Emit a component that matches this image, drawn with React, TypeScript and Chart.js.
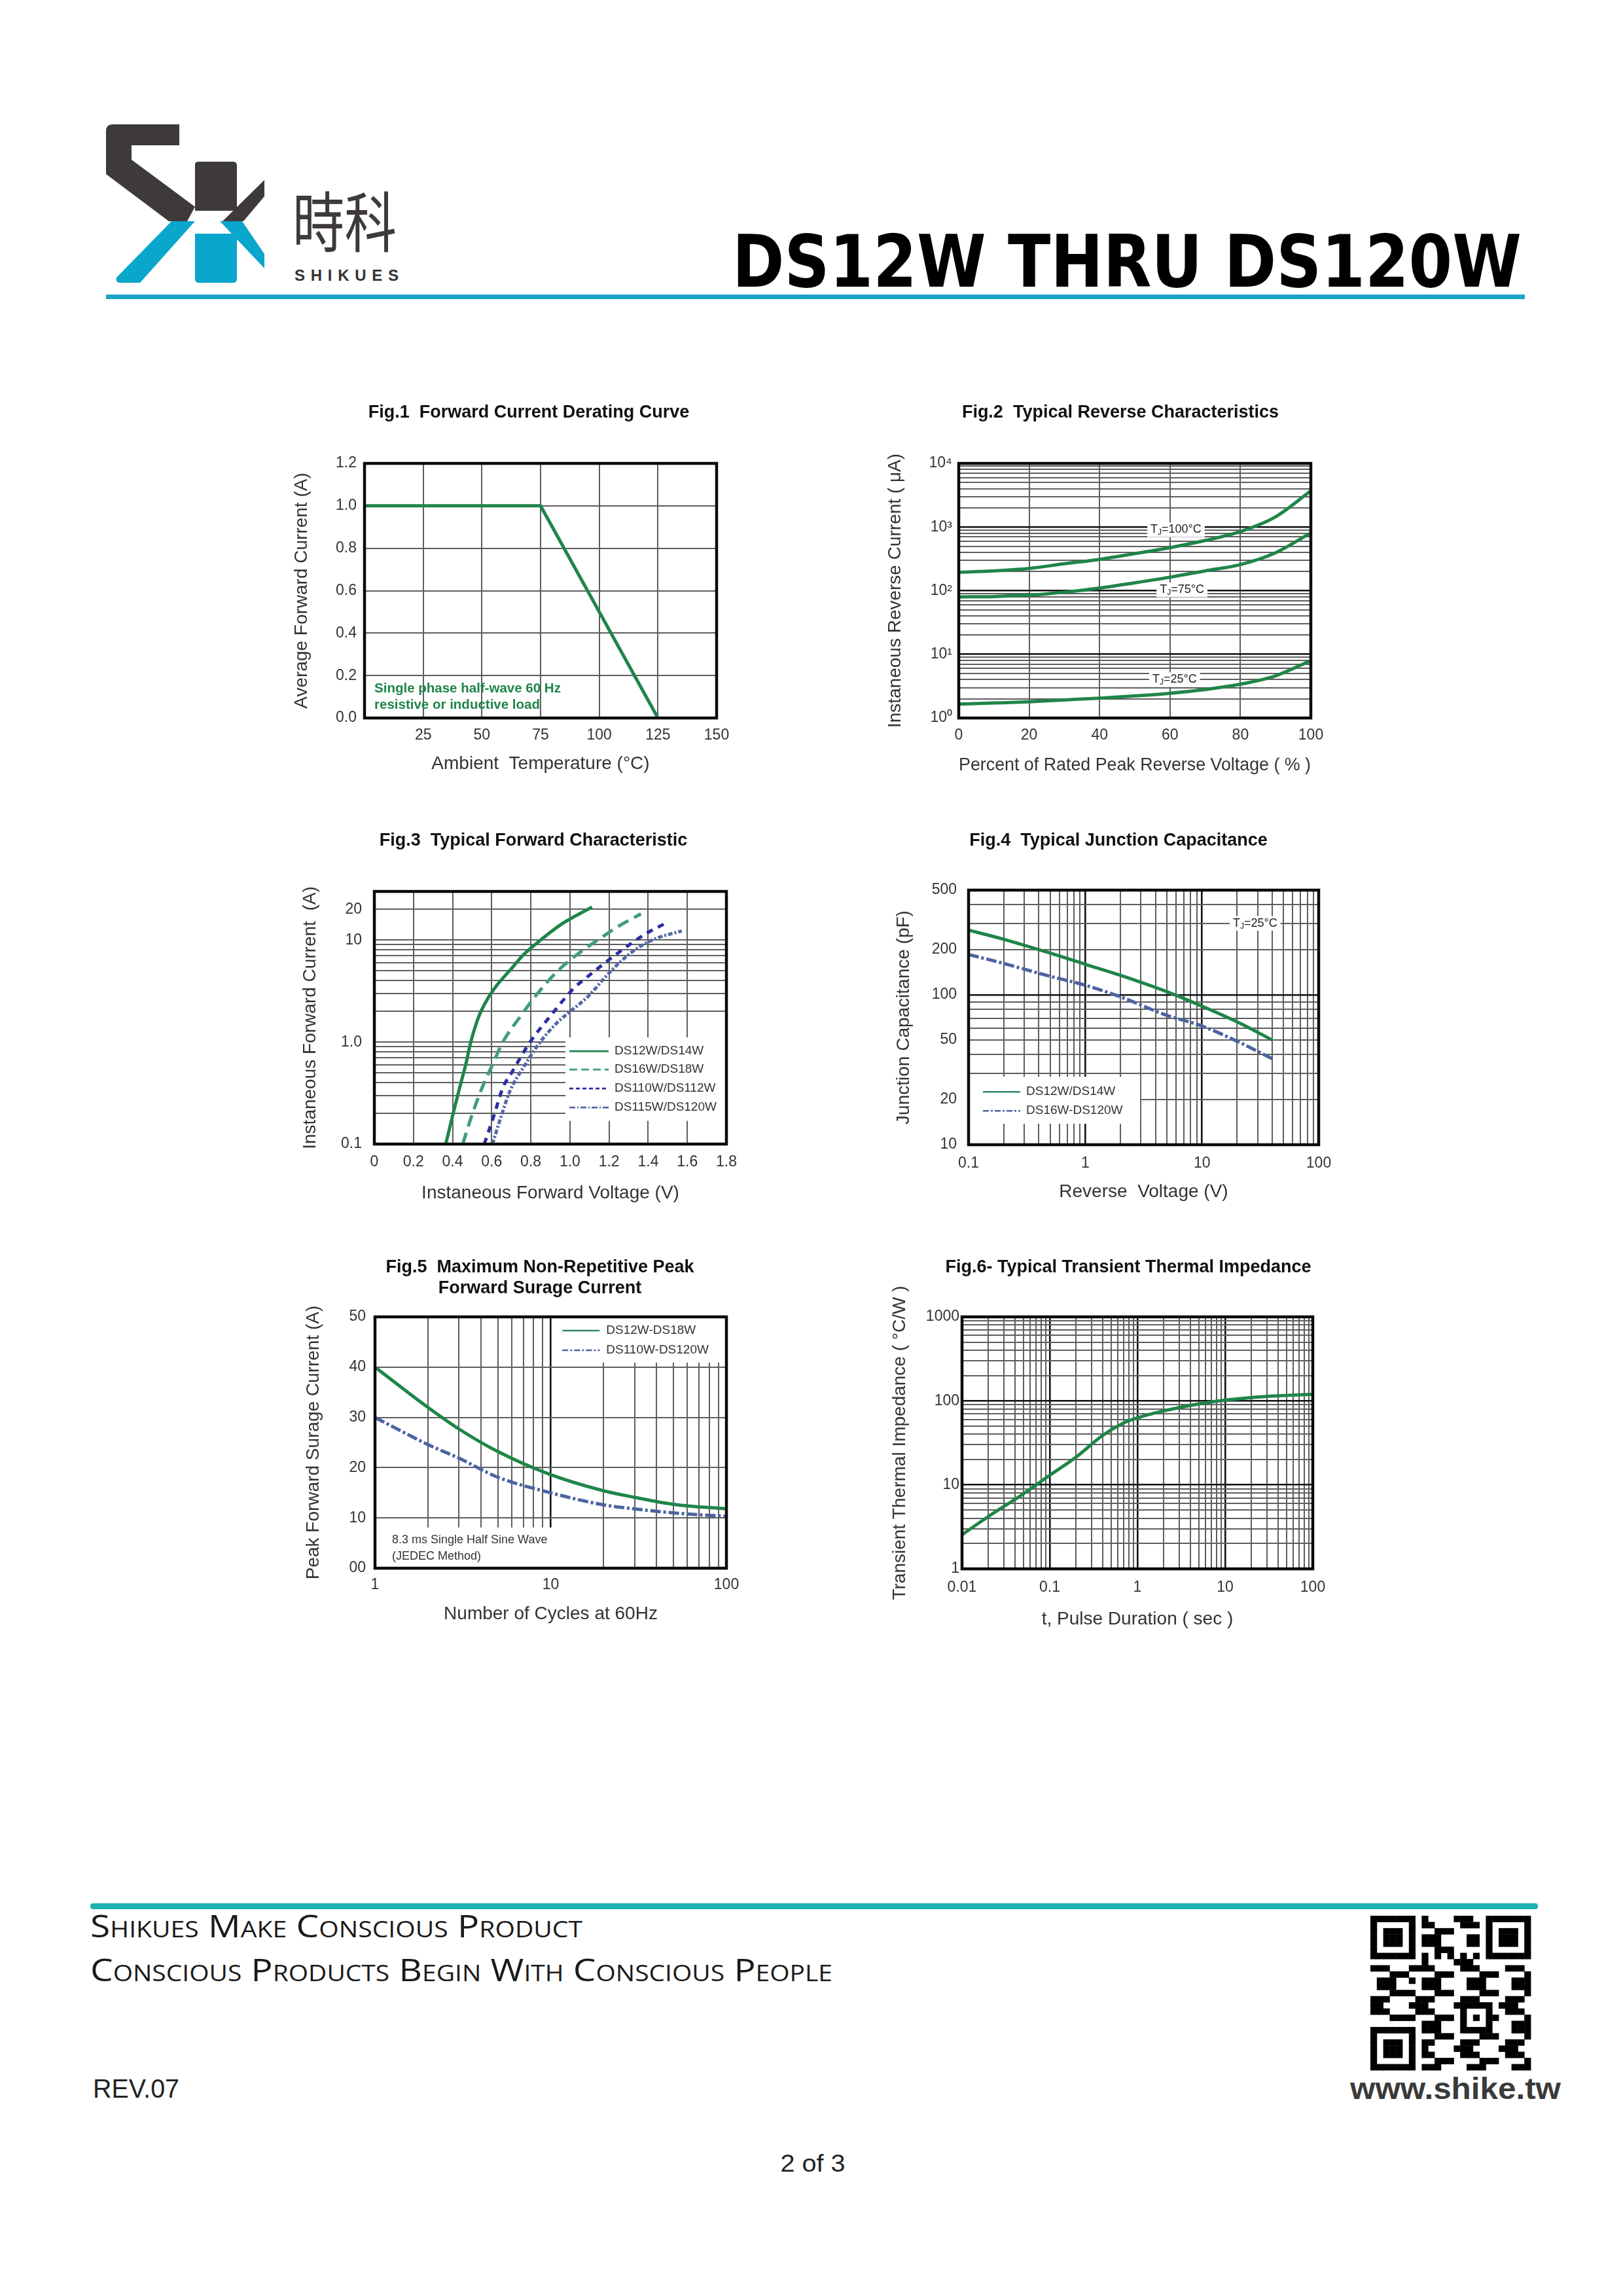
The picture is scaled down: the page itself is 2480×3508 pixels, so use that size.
import React, { useEffect, useRef } from 'react';
import { Chart, registerables } from 'chart.js';

Chart.register(...registerables);

// ======================= DATA =======================
// Fig.1 Forward Current Derating Curve
const FIG1_TEMP = [0, 75, 125];
const FIG1_CURRENT = [1.0, 1.0, 0.0];
const FIG1_X_GRID = [0, 25, 50, 75, 100, 125, 150];
const FIG1_X_LABELS = ['', '25', '50', '75', '100', '125', '150'];
const FIG1_Y_GRID = [0, 0.2, 0.4, 0.6, 0.8, 1.0, 1.2];
const FIG1_Y_LABELS = ['0.0', '0.2', '0.4', '0.6', '0.8', '1.0', '1.2'];

// Fig.2 Typical Reverse Characteristics
const FIG2_PCT = [0, 10, 20, 30, 40, 50, 60, 70, 80, 90, 100];
const FIG2_TJ100 = [195, 205, 224, 265, 310, 382, 475, 615, 850, 1450, 3700];
const FIG2_TJ75 = [80, 81, 85, 95, 110, 133, 163, 205, 257, 395, 810];
const FIG2_TJ25 = [1.65, 1.72, 1.8, 1.92, 2.05, 2.22, 2.45, 2.8, 3.4, 4.6, 8.0];
const FIG2_X_GRID = [0, 20, 40, 60, 80, 100];
const FIG2_X_LABELS = ['0', '20', '40', '60', '80', '100'];
const FIG2_Y_LABEL_VALUES = [1, 10, 100, 1000, 10000];
const FIG2_Y_LABELS = ['10⁰', '10¹', '10²', '10³', '10⁴'];

// Fig.3 Typical Forward Characteristic
const FIG3_DS12W_V = [0.365, 0.403, 0.436, 0.467, 0.493, 0.535, 0.581, 0.626, 0.695, 0.763, 0.847, 0.961, 1.113];
const FIG3_DS12W_I = [0.1, 0.2, 0.357, 0.6, 1.0, 1.8, 2.7, 3.6, 5.1, 7.2, 9.9, 14.5, 21.1];
const FIG3_DS16W_V = [0.452, 0.493, 0.543, 0.604, 0.657, 0.748, 0.832, 0.938, 1.044, 1.158, 1.249, 1.363];
const FIG3_DS16W_I = [0.1, 0.178, 0.327, 0.6, 1.0, 1.8, 2.96, 5.0, 7.4, 10.5, 13.7, 18.1];
const FIG3_DS110W_V = [0.562, 0.611, 0.657, 0.703, 0.748, 0.796, 0.9, 1.022, 1.098, 1.234, 1.386, 1.485];
const FIG3_DS110W_I = [0.1, 0.189, 0.357, 0.505, 0.71, 1.0, 1.8, 3.4, 4.5, 7.2, 11.5, 14.5];
const FIG3_DS115W_V = [0.604, 0.649, 0.695, 0.763, 0.839, 0.93, 1.006, 1.098, 1.174, 1.265, 1.356, 1.447, 1.572];
const FIG3_DS115W_I = [0.1, 0.189, 0.337, 0.567, 0.95, 1.52, 2.03, 2.86, 4.2, 6.3, 8.6, 10.5, 12.3];
const FIG3_X_GRID = [0, 0.2, 0.4, 0.6, 0.8, 1.0, 1.2, 1.4, 1.6, 1.8];
const FIG3_X_LABELS = ['0', '0.2', '0.4', '0.6', '0.8', '1.0', '1.2', '1.4', '1.6', '1.8'];
const FIG3_Y_LABEL_VALUES = [0.1, 1, 10, 20];
const FIG3_Y_LABELS = ['0.1', '1.0', '10', '20'];

// Fig.4 Typical Junction Capacitance
const FIG4_VR = [0.1, 0.2, 0.5, 1, 2, 5, 10, 20, 40];
const FIG4_DS12W = [270, 235, 190, 160, 135, 105, 84, 66, 50];
const FIG4_DS16W = [186, 162, 133, 116, 97, 73, 62, 49, 37.5];
const FIG4_X_LABEL_VALUES = [0.1, 1, 10, 100];
const FIG4_X_LABELS = ['0.1', '1', '10', '100'];
const FIG4_Y_LABEL_VALUES = [10, 20, 50, 100, 200, 500];
const FIG4_Y_LABELS = ['10', '20', '50', '100', '200', '500'];

// Fig.5 Maximum Non-Repetitive Peak Forward Surge Current
const FIG5_CYCLES = [1, 2, 3, 5, 10, 20, 30, 50, 100];
const FIG5_DS12W = [40, 32, 27.7, 23.2, 18.6, 15.4, 14.1, 12.7, 11.8];
const FIG5_DS110W = [30, 24.6, 21.9, 18.1, 15.0, 12.6, 11.8, 11.0, 10.3];
const FIG5_X_LABEL_VALUES = [1, 10, 100];
const FIG5_X_LABELS = ['1', '10', '100'];
const FIG5_Y_GRID = [0, 10, 20, 30, 40, 50];
const FIG5_Y_LABELS = ['00', '10', '20', '30', '40', '50'];

// Fig.6 Typical Transient Thermal Impedance
const FIG6_T = [0.01, 0.02, 0.05, 0.1, 0.2, 0.4, 0.7, 1, 2, 5, 10, 30, 100];
const FIG6_Z = [2.55, 4.2, 7.8, 13, 21.4, 38.7, 54.7, 62.8, 76, 92, 102, 113, 120];
const FIG6_X_LABEL_VALUES = [0.01, 0.1, 1, 10, 100];
const FIG6_X_LABELS = ['0.01', '0.1', '1', '10', '100'];
const FIG6_Y_LABEL_VALUES = [1, 10, 100, 1000];
const FIG6_Y_LABELS = ['1', '10', '100', '1000'];

// ======================= STYLE =======================
const FONT = "'Liberation Sans', Arial, Helvetica, sans-serif";
const GREEN = '#1f8549';
const TEAL = '#3f9c82';
const NAVY = '#2d2da3';
const SLATE = '#5568a6';
const BLUE = '#4d63a1';
const GRID = '#5e5e5e';
const MAJOR = '#111111';
const TICK_COLOR = '#333333';

const TITLE_SIZE = 27;
const TITLE_LH = 1.15;
const AXIS_TITLE_SIZE = 28;
const AXIS_LH = 1.2;
const TICK_SIZE = 23;

// grid helper: 1..9 x 10^e for each decade
function logGrid(minExp: number, maxExp: number): number[] {
  const out: number[] = [];
  for (let e = minExp; e < maxExp; e++) {
    for (let m = 1; m < 10; m++) out.push(Number((m * Math.pow(10, e)).toPrecision(8)));
  }
  out.push(Number(Math.pow(10, maxExp).toPrecision(8)));
  return out;
}

function near(a: number, b: number) {
  return Math.abs(a - b) <= 1e-9 * Math.max(1, Math.abs(b));
}

function lookup(values: number[], labels: string[]) {
  return (v: number) => {
    for (let i = 0; i < values.length; i++) if (near(v, values[i])) return labels[i];
    return '';
  };
}

function zip(xs: number[], ys: number[]) {
  return xs.map((x, i) => ({ x, y: ys[i] }));
}

// ======================= PLUGINS =======================
function drawRich(ctx: any, x: number, y: number, t: any) {
  const size = t.size ?? 18;
  const weight = t.weight ?? 'normal';
  const parts = t.parts ?? [{ t: t.text }];
  const fontFor = (p: any) => `${weight} ${p.sub ? Math.round(size * 0.68) : size}px ${FONT}`;
  let w = 0;
  const widths = parts.map((p: any) => {
    ctx.font = fontFor(p);
    const m = ctx.measureText(p.t).width;
    w += m;
    return m;
  });
  let sx = t.align === 'left' ? x : x - w / 2;
  if (t.bg) {
    ctx.fillStyle = '#ffffff';
    ctx.fillRect(sx - 5, y - size * 0.62, w + 10, size * 1.24);
  }
  ctx.fillStyle = t.color ?? '#222222';
  ctx.textBaseline = 'middle';
  ctx.textAlign = 'left';
  parts.forEach((p: any, i: number) => {
    ctx.font = fontFor(p);
    ctx.fillText(p.t, sx, p.sub ? y + size * 0.25 : y);
    sx += widths[i];
  });
}

// overlay spec captured in a closure (kept out of Chart.js option resolution)
function makeOverlayPlugin(o: any) {
  return {
    id: 'overlay',
    beforeDatasetsDraw(chart: any) {
      if (!o) return;
      const { ctx, chartArea: ca } = chart;
      const xs = chart.scales.x;
      const ys = chart.scales.y;
      ctx.save();
      const boxes: any[] = Array.isArray(o.boxes) ? o.boxes : [];
      boxes.forEach((b: any) => {
        const l = b.x0 === undefined ? ca.left : xs.getPixelForValue(b.x0);
        const r = b.x1 === undefined ? ca.right : xs.getPixelForValue(b.x1);
        const t = b.y1 === undefined ? ca.top : ys.getPixelForValue(b.y1);
        const bt = b.y0 === undefined ? ca.bottom : ys.getPixelForValue(b.y0);
        ctx.fillStyle = '#ffffff';
        ctx.fillRect(l, t, r - l, bt - t);
        const items: any[] = Array.isArray(b.items) ? b.items : [];
        items.forEach((e: any) => {
          const yy = t + e.dy;
          ctx.beginPath();
          ctx.strokeStyle = e.color;
          ctx.lineWidth = 2.6;
          ctx.setLineDash(e.dash || []);
          ctx.moveTo(l + b.sx0, yy);
          ctx.lineTo(l + b.sx1, yy);
          ctx.stroke();
          ctx.setLineDash([]);
          drawRich(ctx, l + b.tx, yy, { text: e.label, size: 19, color: '#333333', align: 'left' });
        });
        const lines: any[] = Array.isArray(b.lines) ? b.lines : [];
        lines.forEach((ln: any) => {
          drawRich(ctx, l + ln.dx, t + ln.dy, { text: ln.text, size: 18, color: '#333333', align: 'left' });
        });
      });
      const texts: any[] = Array.isArray(o.texts) ? o.texts : [];
      texts.forEach((tx: any) => {
        drawRich(ctx, xs.getPixelForValue(tx.x), ys.getPixelForValue(tx.y), tx);
      });
      ctx.restore();
    },
  };
}

const framePlugin = {
  id: 'frame',
  afterDatasetsDraw(chart: any) {
    const { ctx, chartArea: ca } = chart;
    ctx.save();
    ctx.strokeStyle = '#0a0a0a';
    ctx.lineWidth = 4.5;
    ctx.strokeRect(ca.left, ca.top, ca.right - ca.left, ca.bottom - ca.top);
    ctx.restore();
  },
};

// ======================= CHART BUILDER =======================
function geometry(spec: any) {
  const L = spec.layout;
  const tlh = TITLE_SIZE * TITLE_LH;
  const alh = AXIS_TITLE_SIZE * AXIS_LH;
  const CL = Math.round(L.YT - alh / 2);
  const CT = Math.floor(L.TY - tlh / 2);
  const CR = Math.round(2 * L.TC - CL);
  const CB = Math.round(L.XT + alh / 2);
  const tPadTop = L.TY - tlh / 2 - CT;
  const n = spec.title.length;
  return {
    CL,
    CT,
    W: CR - CL,
    H: CB - CT,
    yW: L.L - CL,
    xH: CB - L.B,
    rW: CR - L.R,
    tPadTop,
    tPadBottom: L.T - CT - tPadTop - n * tlh,
  };
}

function axis(a: any, position: string, size: number, title: string, tickPad: number) {
  const label = lookup(a.labelValues, a.labels);
  const majors: number[] = a.majors || [];
  const gridVals: number[] = a.grid;
  const isMaj = (v: any) => typeof v === 'number' && majors.some((m) => near(v, m));
  return {
    type: a.type,
    position,
    min: a.min,
    max: a.max,
    afterBuildTicks: (s: any) => {
      s.ticks = gridVals.map((v: number) => ({ value: v }));
    },
    afterFit: (s: any) => {
      if (position === 'left') s.width = size;
      else s.height = size;
    },
    grid: {
      display: true,
      drawTicks: false,
      color: (c: any) => (isMaj(c.tick && c.tick.value) ? MAJOR : GRID),
      lineWidth: (c: any) => (isMaj(c.tick && c.tick.value) ? 2.6 : 2),
    },
    border: { display: false },
    ticks: {
      autoSkip: false,
      maxRotation: 0,
      minRotation: 0,
      padding: tickPad,
      color: TICK_COLOR,
      font: { family: FONT, size: TICK_SIZE },
      callback: (v: any) => label(Number(v)),
    },
    title: {
      display: true,
      text: title,
      color: '#333333',
      padding: 0,
      font: { family: FONT, size: AXIS_TITLE_SIZE, lineHeight: AXIS_LH },
    },
  };
}

function buildConfig(spec: any, g: any) {
  const datasets = spec.series.map((s: any) => ({
    label: s.label,
    data: zip(s.xs, s.ys),
    borderColor: s.color,
    backgroundColor: s.color,
    borderWidth: s.width ?? 5,
    borderDash: s.dash ?? [],
    borderCapStyle: 'butt',
    borderJoinStyle: 'round',
    showLine: true,
    fill: false,
    pointRadius: 0,
    pointHoverRadius: 0,
    tension: s.smooth ? 0.4 : 0,
    cubicInterpolationMode: s.smooth ? 'monotone' : 'default',
    xAxisID: 'x',
    yAxisID: 'y',
  }));
  return {
    type: 'scatter',
    data: { datasets },
    options: {
      responsive: false,
      maintainAspectRatio: false,
      animation: false,
      devicePixelRatio: 1,
      events: [],
      layout: { padding: 0 },
      scales: {
        x: axis(spec.x, 'bottom', g.xH, spec.xTitle, spec.layout.xPad),
        y: axis(spec.y, 'left', g.yW, spec.yTitle, spec.layout.yPad),
        rpad: {
          type: 'linear',
          position: 'right',
          display: true,
          grid: { display: false },
          ticks: { display: false },
          border: { display: false },
          title: { display: false },
          afterFit: (s: any) => {
            s.width = g.rW;
          },
        },
      },
      plugins: {
        legend: { display: false },
        tooltip: { enabled: false },
        title: {
          display: true,
          text: spec.title,
          color: '#111111',
          align: 'center',
          fullSize: true,
          padding: { top: g.tPadTop, bottom: g.tPadBottom },
          font: { family: FONT, size: TITLE_SIZE, weight: 'bold', lineHeight: TITLE_LH },
        },
      },
    },
    plugins: [makeOverlayPlugin(spec.overlay), framePlugin],
  };
}

const TJ = (rest: string) => [{ t: 'T' }, { t: 'J', sub: true }, { t: rest }];

// ======================= FIGURE SPECS =======================
const FIGS: any[] = [
  {
    layout: { L: 557, T: 708, R: 1095, B: 1097, YT: 461, XT: 1167, TC: 808, TY: 631, yPad: 12, xPad: 13 },
    title: ['Fig.1  Forward Current Derating Curve'],
    xTitle: 'Ambient  Temperature (°C)',
    yTitle: 'Average Forward Current (A)',
    x: { type: 'linear', min: 0, max: 150, grid: FIG1_X_GRID, labelValues: FIG1_X_GRID, labels: FIG1_X_LABELS },
    y: { type: 'linear', min: 0, max: 1.2, grid: FIG1_Y_GRID, labelValues: FIG1_Y_GRID, labels: FIG1_Y_LABELS },
    series: [{ label: 'IF(AV)', xs: FIG1_TEMP, ys: FIG1_CURRENT, color: GREEN, smooth: false }],
    overlay: {
      texts: [
        { x: 4.2, y: 0.139, text: 'Single phase half-wave 60 Hz', size: 20.5, weight: 'bold', color: GREEN, align: 'left' },
        { x: 4.2, y: 0.062, text: 'resistive or inductive load', size: 20.5, weight: 'bold', color: GREEN, align: 'left' },
      ],
    },
  },
  {
    layout: { L: 1465, T: 708, R: 2003, B: 1097, YT: 1368, XT: 1169, TC: 1712, TY: 631, yPad: 10, xPad: 13 },
    title: ['Fig.2  Typical Reverse Characteristics'],
    xTitle: 'Percent of Rated Peak Reverse Voltage ( % )',
    yTitle: 'Instaneous Reverse Current ( μA)',
    x: { type: 'linear', min: 0, max: 100, grid: FIG2_X_GRID, labelValues: FIG2_X_GRID, labels: FIG2_X_LABELS },
    y: { type: 'logarithmic', min: 1, max: 10000, grid: logGrid(0, 4), labelValues: FIG2_Y_LABEL_VALUES, labels: FIG2_Y_LABELS, majors: [10, 100, 1000] },
    series: [
      { label: 'TJ=100°C', xs: FIG2_PCT, ys: FIG2_TJ100, color: GREEN, smooth: true },
      { label: 'TJ=75°C', xs: FIG2_PCT, ys: FIG2_TJ75, color: GREEN, smooth: true },
      { label: 'TJ=25°C', xs: FIG2_PCT, ys: FIG2_TJ25, color: GREEN, smooth: true },
    ],
    overlay: {
      texts: [
        { x: 61.7, y: 905, parts: TJ('=100°C'), size: 18, bg: true },
        { x: 63.4, y: 103, parts: TJ('=75°C'), size: 18, bg: true },
        { x: 61.3, y: 4.0, parts: TJ('=25°C'), size: 18, bg: true },
      ],
    },
  },
  {
    layout: { L: 572, T: 1362, R: 1110, B: 1748, YT: 474, XT: 1823, TC: 815, TY: 1285, yPad: 19, xPad: 14 },
    title: ['Fig.3  Typical Forward Characteristic'],
    xTitle: 'Instaneous Forward Voltage (V)',
    yTitle: 'Instaneous Forward Current  (A)',
    x: { type: 'linear', min: 0, max: 1.8, grid: FIG3_X_GRID, labelValues: FIG3_X_GRID, labels: FIG3_X_LABELS },
    y: { type: 'logarithmic', min: 0.1, max: 30, grid: logGrid(-1, 1).concat([20]), labelValues: FIG3_Y_LABEL_VALUES, labels: FIG3_Y_LABELS },
    series: [
      { label: 'DS12W/DS14W', xs: FIG3_DS12W_V, ys: FIG3_DS12W_I, color: GREEN, smooth: true },
      { label: 'DS16W/DS18W', xs: FIG3_DS16W_V, ys: FIG3_DS16W_I, color: TEAL, dash: [18, 10], smooth: true },
      { label: 'DS110W/DS112W', xs: FIG3_DS110W_V, ys: FIG3_DS110W_I, color: NAVY, dash: [10, 9], smooth: true },
      { label: 'DS115W/DS120W', xs: FIG3_DS115W_V, ys: FIG3_DS115W_I, color: SLATE, dash: [7, 3, 3, 3], smooth: true },
    ],
    overlay: {
      boxes: [
        {
          x0: 0.977,
          y0: 0.169,
          y1: 1.11,
          sx0: 6,
          sx1: 66,
          tx: 75,
          items: [
            { label: 'DS12W/DS14W', color: GREEN, dash: [], dy: 21 },
            { label: 'DS16W/DS18W', color: TEAL, dash: [12, 6], dy: 49 },
            { label: 'DS110W/DS112W', color: NAVY, dash: [6, 4], dy: 78 },
            { label: 'DS115W/DS120W', color: SLATE, dash: [9, 3, 2, 3], dy: 107 },
          ],
        },
      ],
    },
  },
  {
    layout: { L: 1480, T: 1360, R: 2015, B: 1749, YT: 1381, XT: 1821, TC: 1709, TY: 1285, yPad: 18, xPad: 15 },
    title: ['Fig.4  Typical Junction Capacitance'],
    xTitle: 'Reverse  Voltage (V)',
    yTitle: 'Junction Capacitance (pF)',
    x: { type: 'logarithmic', min: 0.1, max: 100, grid: logGrid(-1, 2), labelValues: FIG4_X_LABEL_VALUES, labels: FIG4_X_LABELS, majors: [1, 10] },
    y: { type: 'logarithmic', min: 10, max: 500, grid: logGrid(1, 2).concat([200, 300, 400, 500]), labelValues: FIG4_Y_LABEL_VALUES, labels: FIG4_Y_LABELS, majors: [100] },
    series: [
      { label: 'DS12W/DS14W', xs: FIG4_VR, ys: FIG4_DS12W, color: GREEN, smooth: true },
      { label: 'DS16W-DS120W', xs: FIG4_VR, ys: FIG4_DS16W, color: BLUE, dash: [16, 4, 4, 4], smooth: true },
    ],
    overlay: {
      boxes: [
        {
          x1: 2.95,
          y0: 13.8,
          y1: 28.4,
          sx0: 22,
          sx1: 79,
          tx: 88,
          items: [
            { label: 'DS12W/DS14W', color: '#2e8a62', dash: [], dy: 23 },
            { label: 'DS16W-DS120W', color: BLUE, dash: [9, 3, 3, 3], dy: 52 },
          ],
        },
      ],
      texts: [{ x: 28.5, y: 300, parts: TJ('=25°C'), size: 18, bg: true }],
    },
  },
  {
    layout: { L: 573, T: 2012, R: 1110, B: 2396, YT: 479, XT: 2466, TC: 825, TY: 1937, yPad: 14, xPad: 12 },
    title: ['Fig.5  Maximum Non-Repetitive Peak', 'Forward Surage Current'],
    xTitle: 'Number of Cycles at 60Hz',
    yTitle: 'Peak Forward Surage Current (A)',
    x: { type: 'logarithmic', min: 1, max: 100, grid: logGrid(0, 2), labelValues: FIG5_X_LABEL_VALUES, labels: FIG5_X_LABELS, majors: [10] },
    y: { type: 'linear', min: 0, max: 50, grid: FIG5_Y_GRID, labelValues: FIG5_Y_GRID, labels: FIG5_Y_LABELS },
    series: [
      { label: 'DS12W-DS18W', xs: FIG5_CYCLES, ys: FIG5_DS12W, color: GREEN, smooth: true },
      { label: 'DS110W-DS120W', xs: FIG5_CYCLES, ys: FIG5_DS110W, color: BLUE, dash: [16, 4, 4, 4], smooth: true },
    ],
    overlay: {
      boxes: [
        {
          x0: 10.6,
          y0: 40.9,
          sx0: 11,
          sx1: 68,
          tx: 78,
          items: [
            { label: 'DS12W-DS18W', color: '#2e8a62', dash: [], dy: 21 },
            { label: 'DS110W-DS120W', color: BLUE, dash: [9, 3, 3, 3], dy: 51 },
          ],
        },
        {
          x1: 13.9,
          y1: 8.1,
          lines: [
            { dx: 26, dy: 19, text: '8.3 ms Single Half Sine Wave' },
            { dx: 26, dy: 44, text: '(JEDEC Method)' },
          ],
        },
      ],
    },
  },
  {
    layout: { L: 1470, T: 2012, R: 2006, B: 2397, YT: 1375, XT: 2474, TC: 1724, TY: 1937, yPad: 4, xPad: 15 },
    title: ['Fig.6- Typical Transient Thermal Impedance'],
    xTitle: 't, Pulse Duration ( sec )',
    yTitle: 'Transient Thermal Impedance ( °C/W )',
    x: { type: 'logarithmic', min: 0.01, max: 100, grid: logGrid(-2, 2), labelValues: FIG6_X_LABEL_VALUES, labels: FIG6_X_LABELS, majors: [0.1, 1, 10] },
    y: { type: 'logarithmic', min: 1, max: 1000, grid: logGrid(0, 3), labelValues: FIG6_Y_LABEL_VALUES, labels: FIG6_Y_LABELS, majors: [10, 100] },
    series: [{ label: 'Zth', xs: FIG6_T, ys: FIG6_Z, color: GREEN, smooth: true }],
    overlay: {},
  },
];

// ======================= COMPONENTS =======================
function FigChart({ spec }: { spec: any }) {
  const ref = useRef<HTMLCanvasElement | null>(null);
  const g = geometry(spec);
  useEffect(() => {
    if (!ref.current) return;
    const chart = new Chart(ref.current, buildConfig(spec, g) as any);
    return () => chart.destroy();
  }, []);
  return (
    <canvas
      ref={ref}
      width={g.W}
      height={g.H}
      style={{ position: 'absolute', left: g.CL, top: g.CT, width: g.W, height: g.H }}
    />
  );
}

function qrMatrix(): boolean[][] {
  const n = 25;
  const m: boolean[][] = [];
  for (let r = 0; r < n; r++) {
    const row: boolean[] = [];
    for (let c = 0; c < n; c++) row.push(((r * 7 + 3) * (c * 11 + 5) + r * r + c) % 7 < 3);
    m.push(row);
  }
  const finder = (r0: number, c0: number) => {
    for (let r = -1; r < 8; r++)
      for (let c = -1; c < 8; c++) {
        const rr = r0 + r;
        const cc = c0 + c;
        if (rr < 0 || cc < 0 || rr >= n || cc >= n) continue;
        const inside = r >= 0 && r <= 6 && c >= 0 && c <= 6;
        const edge = r === 0 || r === 6 || c === 0 || c === 6;
        const core = r >= 2 && r <= 4 && c >= 2 && c <= 4;
        m[rr][cc] = inside && (edge || core);
      }
  };
  finder(0, 0);
  finder(0, n - 7);
  finder(n - 7, 0);
  for (let i = 8; i < n - 8; i++) {
    m[6][i] = i % 2 === 0;
    m[i][6] = i % 2 === 0;
  }
  for (let r = -2; r <= 2; r++)
    for (let c = -2; c <= 2; c++) m[n - 9 + r][n - 9 + c] = Math.max(Math.abs(r), Math.abs(c)) !== 1;
  return m;
}

function Decorations() {
  const qr = qrMatrix();
  const qx = 2094;
  const qy = 2927;
  const cw = 245 / 25;
  const ch = 236 / 25;
  const DARK = '#3e3a39';
  const CYAN = '#0ba6cc';
  return (
    <svg
      width={2480}
      height={3508}
      style={{ position: 'absolute', left: 0, top: 0 }}
      xmlns="http://www.w3.org/2000/svg"
    >
      {/* logo */}
      <path d="M172,190 H274 V222 H201 V244 L298,316 L286,338 L258,338 L162,266 V200 Q162,190 172,190 Z" fill={DARK} />
      <path d="M304,247 H356 Q362,247 362,253 V322 H298 V251 Q298,247 304,247 Z" fill={DARK} />
      <path d="M404,275 V300 L372,338 H340 Z" fill={DARK} />
      <path d="M262,338 H298 L214,432 H184 Q176,432 178,424 Z" fill={CYAN} />
      <path d="M298,357 H362 V426 Q362,432 356,432 H304 Q298,432 298,426 Z" fill={CYAN} />
      <path d="M336,338 H370 L404,388 V410 Z" fill={CYAN} />
      <text
        transform="translate(447 377) scale(1 1.25)"
        x={0}
        y={0}
        fontFamily="'Noto Sans CJK TC', 'Noto Sans CJK SC', sans-serif"
        fontSize={80}
        fill={DARK}
        textLength={159}
        lengthAdjust="spacingAndGlyphs"
      >
        時科
      </text>
      <text
        x={450}
        y={429}
        fontFamily="'Liberation Sans', Arial, sans-serif"
        fontWeight="bold"
        fontSize={24}
        fill="#333333"
        textLength={159}
        lengthAdjust="spacing"
      >
        SHIKUES
      </text>
      {/* header title */}
      <text
        transform="translate(1119 438) scale(1 1.12)"
        x={0}
        y={0}
        fontFamily="'DejaVu Sans', sans-serif"
        fontWeight="bold"
        fontSize={98}
        fill="#000000"
        textLength={1206}
        lengthAdjust="spacingAndGlyphs"
      >
        DS12W THRU DS120W
      </text>
      <rect x={162} y={450} width={2168} height={7} fill="#1ba3c6" />
      {/* footer */}
      <rect x={138} y={2908} width={2212} height={9} rx={4} fill="#1cb2b0" />
      <text
        x={138}
        y={2960}
        fontFamily="'Open Sans', sans-serif"
        fontSize={48}
        fill="#1a1a1a"
        style={{ fontVariant: 'small-caps' }}
        textLength={752}
        lengthAdjust="spacingAndGlyphs"
      >
        Shikues Make Conscious Product
      </text>
      <text
        x={138}
        y={3027}
        fontFamily="'Open Sans', sans-serif"
        fontSize={48}
        fill="#1a1a1a"
        style={{ fontVariant: 'small-caps' }}
        textLength={1134}
        lengthAdjust="spacingAndGlyphs"
      >
        Conscious Products Begin With Conscious People
      </text>
      <text
        x={142}
        y={3205}
        fontFamily="'Liberation Sans', Arial, sans-serif"
        fontSize={41}
        fill="#222222"
        textLength={132}
        lengthAdjust="spacingAndGlyphs"
      >
        REV.07
      </text>
      <text
        x={1242}
        y={3318}
        textAnchor="middle"
        fontFamily="'Liberation Sans', Arial, sans-serif"
        fontSize={36}
        fill="#222222"
        textLength={99}
        lengthAdjust="spacingAndGlyphs"
      >
        2 of 3
      </text>
      <text
        x={2063}
        y={3207}
        fontFamily="'Liberation Sans', Arial, sans-serif"
        fontWeight="bold"
        fontSize={46}
        fill="#3a3a3a"
        textLength={322}
        lengthAdjust="spacingAndGlyphs"
      >
        www.shike.tw
      </text>
      <g fill="#000000">
        {qr.map((row, r) =>
          row.map((on, c) =>
            on ? (
              <rect key={`${r}-${c}`} x={qx + c * cw} y={qy + r * ch} width={cw + 0.4} height={ch + 0.4} />
            ) : null
          )
        )}
      </g>
    </svg>
  );
}

export default function App() {
  return (
    <div style={{ position: 'absolute', left: 0, top: 0, width: 2480, height: 3508, background: '#ffffff' }}>
      <Decorations />
      {FIGS.map((spec, i) => (
        <FigChart key={i} spec={spec} />
      ))}
    </div>
  );
}
